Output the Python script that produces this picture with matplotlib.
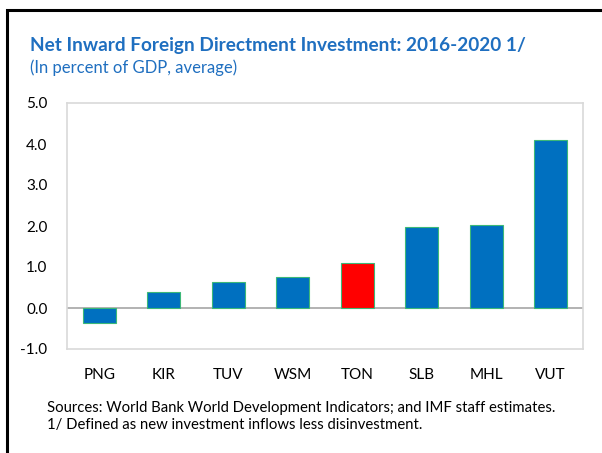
import matplotlib.pyplot as plt
import matplotlib.patches as mpatches
import numpy as np

countries = ["PNG", "KIR", "TUV", "WSM", "TON", "SLB", "MHL", "VUT"]
fdi = [-0.37, 0.39, 0.63, 0.75, 1.10, 1.98, 2.02, 4.09]
highlight = "TON"

plt.rcParams['font.family'] = ['Lato', 'DejaVu Sans']

W, H = 602, 453
fig = plt.figure(figsize=(W / 100, H / 100), dpi=100)
ax = fig.add_axes([67 / W, 1 - 349 / H, (583 - 67) / W, (349 - 103) / H])

colors = ["#FF0000" if c == highlight else "#0070C0" for c in countries]
x = np.arange(len(countries))
ax.bar(x, fdi, width=0.51, color=colors, edgecolor="#3CB878", linewidth=0.8, zorder=3)
ax.axhline(0, color="#A6A6A6", linewidth=1.2, zorder=2)

ax.set_xlim(-0.5, len(countries) - 0.5)
ax.set_ylim(-1, 5)
ax.set_yticks(np.arange(-1, 6, 1))
ax.set_yticklabels([f"{v:.1f}" for v in np.arange(-1, 6, 1)], fontsize=11)
ax.set_xticks(x)
ax.set_xticklabels(countries, fontsize=11)
ax.tick_params(length=0)
ax.tick_params(axis="y", pad=14)
ax.tick_params(axis="x", pad=14)
for s in ax.spines.values():
    s.set_color("#D9D9D9")
    s.set_linewidth(1.2)

# title block
fig.text(30 / W, 1 - 45 / H, "Net Inward Foreign Directment Investment: 2016-2020 1/",
         color="#1F6FC0", fontsize=13.7, fontweight="bold", va="center")
fig.text(30 / W, 1 - 68 / H, "(In percent of GDP, average)",
         color="#1F6FC0", fontsize=12, va="center")

fig.text(47 / W, 1 - 408 / H,
         "Sources: World Bank World Development Indicators; and IMF staff estimates.",
         fontsize=10.7, va="center")
fig.text(47 / W, 1 - 425 / H, "1/ Defined as new investment inflows less disinvestment.",
         fontsize=10.7, va="center")

# outer frame (only left and top visible)
fig.add_artist(mpatches.Rectangle((7 / W, -0.1), 1.2, 1 - 10 / H + 0.1,
                                  transform=fig.transFigure, fill=False,
                                  edgecolor="black", linewidth=2.2))

fig.savefig("out.png", dpi=100)
